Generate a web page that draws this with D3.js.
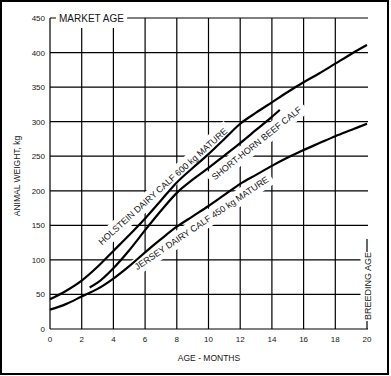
<!DOCTYPE html>
<html>
<head>
<meta charset="utf-8">
<script src="https://cdn.jsdelivr.net/npm/d3@7"></script>
<style>
  body { margin: 0; background: #fff; }
  text { font-family: "Liberation Sans", Arial, sans-serif; fill: #151515; }
</style>
</head>
<body>
<div id="chart"></div>
<script>
// data
var xTicks = [0, 2, 4, 6, 8, 10, 12, 14, 16, 18, 20];
var yTicks = [0, 50, 100, 150, 200, 250, 300, 350, 400, 450];

var holsteinMonths = [0, 1, 2, 3, 4, 5, 6, 7, 8, 9, 10, 11, 12, 13, 14, 15, 16, 17, 18, 19, 20];
var holsteinWeight = [43, 55, 70, 90, 113, 136, 160, 186, 212, 233, 253, 275, 297, 313, 328, 343, 357, 370, 384, 398, 411];

var shorthornMonths = [2.5, 3, 4, 5, 6, 7, 8, 9, 10, 11, 12, 13, 14, 14.5];
var shorthornWeight = [60, 67, 88, 114, 143, 171, 197, 216, 233, 251, 269, 288, 307, 317];

var jerseyMonths = [0, 1, 2, 3, 4, 5, 6, 7, 8, 9, 10, 11, 12, 13, 14, 15, 16, 17, 18, 19, 20];
var jerseyWeight = [28, 36, 47, 58, 73, 91, 111, 130, 148, 163, 178, 194, 210, 223, 236, 248, 259, 269, 279, 288, 297];

var curveLabels = ["HOLSTEIN DAIRY CALF 600 kg MATURE", "SHORT-HORN BEEF CALF", "JERSEY DAIRY CALF 450 kg MATURE"];

var width = 391, height = 376;

var svg = d3.select("#chart")
    .append("svg")
    .attr("width", width)
    .attr("height", height);

svg.append("rect")
    .attr("width", width).attr("height", height)
    .attr("fill", "#fff");

// outer frame of the scan
svg.append("rect")
    .attr("x", 1).attr("y", 1)
    .attr("width", 387).attr("height", 373)
    .attr("fill", "none")
    .attr("stroke", "#000")
    .attr("stroke-width", 2);

var x = d3.scaleLinear().domain([0, 20]).range([50, 367]);
var y = d3.scaleLinear().domain([0, 450]).range([329, 18]);

var grid = svg.append("g")
    .attr("stroke", "#000")
    .attr("stroke-width", 1.2);

// vertical grid (no line at 20, only the breeding age marker)
grid.selectAll(".v")
    .data(xTicks.filter(function(d){ return d < 20; }))
    .enter().append("line")
    .attr("x1", function(d){ return x(d); })
    .attr("x2", function(d){ return x(d); })
    .attr("y1", y(0))
    .attr("y2", y(450));

// horizontal grid
grid.selectAll(".h")
    .data(yTicks)
    .enter().append("line")
    .attr("x1", x(0))
    .attr("x2", x(20) + 1)
    .attr("y1", function(d){ return y(d); })
    .attr("y2", function(d){ return y(d); });

// tick labels
svg.append("g").selectAll("text")
    .data(yTicks)
    .enter().append("text")
    .attr("x", x(0) - 5)
    .attr("y", function(d){ return y(d) + 3; })
    .attr("text-anchor", "end")
    .attr("font-size", 8)
    .text(function(d){ return d; });

svg.append("g").selectAll("text")
    .data(xTicks)
    .enter().append("text")
    .attr("x", function(d){ return x(d); })
    .attr("y", y(0) + 13)
    .attr("text-anchor", "middle")
    .attr("font-size", 8)
    .text(function(d){ return d; });

// helper: text with a white box behind it, which cuts the grid like the original
function boxedLabel(tx, ty, angle, txt, size, anchor, pad){
    var g = svg.append("g")
        .attr("transform", "translate(" + tx + "," + ty + ") rotate(" + angle + ")");
    var t = g.append("text")
        .attr("font-size", size)
        .attr("text-anchor", anchor || "start")
        .text(txt);
    var b = t.node().getBBox();
    g.insert("rect", "text")
        .attr("x", b.x - pad)
        .attr("y", b.y - pad + 1)
        .attr("width", b.width + pad * 2)
        .attr("height", b.height + pad * 2 - 2)
        .attr("fill", "#fff");
    return g;
}

// market age (top left): the 2 and 4 month lines stop short of the label
svg.append("rect")
    .attr("x", x(0) + 6).attr("y", y(450) + 2)
    .attr("width", 70).attr("height", 8)
    .attr("fill", "#fff");
boxedLabel(x(0) + 9, y(450) + 3.5, 0, "MARKET AGE", 10, "start", 3);

// breeding age (right)
boxedLabel(x(20) + 3.5, y(0) - 43, -90, "BREEDING AGE", 9, "middle", 3);

var marker = svg.append("g").attr("stroke", "#000").attr("stroke-width", 1.2);
marker.append("line")
    .attr("x1", x(20)).attr("x2", x(20))
    .attr("y1", y(0)).attr("y2", y(0) - 8);
marker.append("line")
    .attr("x1", x(20)).attr("x2", x(20))
    .attr("y1", y(0) - 77).attr("y2", y(0) - 90);

// axis titles
svg.append("text")
    .attr("transform", "translate(20,176) rotate(-90)")
    .attr("text-anchor", "middle")
    .attr("font-size", 8.5)
    .text("ANIMAL WEIGHT, kg");

svg.append("text")
    .attr("x", 209)
    .attr("y", 361)
    .attr("text-anchor", "middle")
    .attr("font-size", 8.5)
    .text("AGE - MONTHS");

// curve labels, placed along their curves
boxedLabel(x(3.28), y(121), -42, curveLabels[0], 9, "start", 4);
boxedLabel(x(10.4), y(215), -38.5, curveLabels[1], 9, "start", 4);
boxedLabel(x(5.5), y(85), -34, curveLabels[2], 9, "start", 4);

// growth curves
var line = d3.line()
    .x(function(d){ return x(d[0]); })
    .y(function(d){ return y(d[1]); })
    .curve(d3.curveMonotoneX);

var series = [
    d3.zip(holsteinMonths, holsteinWeight),
    d3.zip(shorthornMonths, shorthornWeight),
    d3.zip(jerseyMonths, jerseyWeight)
];

svg.append("g").selectAll("path")
    .data(series)
    .enter().append("path")
    .attr("d", line)
    .attr("fill", "none")
    .attr("stroke", "#000")
    .attr("stroke-width", 2.2);
</script>
</body>
</html>
